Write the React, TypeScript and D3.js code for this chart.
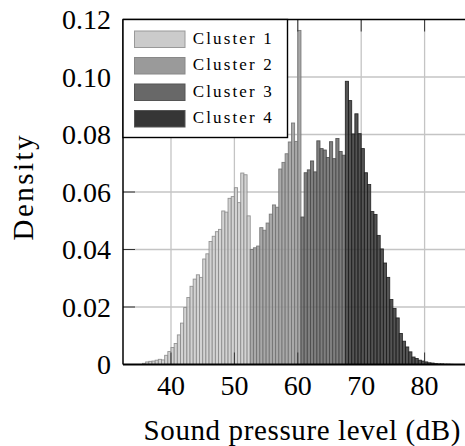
import React from "react";
import * as d3 from "d3";

// ---- Data (density per 0.5 dB bin) ----
const binWidth = 0.5;
const clusterNames = ["Cluster 1", "Cluster 2", "Cluster 3", "Cluster 4"];
const clusterStarts = [35.5, 52.5, 60.5, 67.5];
const cluster1 = [
  0.0004, 0.0009, 0.0011, 0.0012, 0.0015, 0.0018, 0.0016, 0.0032, 0.0045, 0.0059,
  0.0073, 0.0103, 0.0144, 0.0198, 0.0233, 0.0272, 0.0297, 0.0312, 0.0303, 0.0367,
  0.0385, 0.0428, 0.0446, 0.0462, 0.047, 0.0534, 0.053, 0.0578, 0.0584, 0.0615,
  0.0563, 0.0666, 0.066, 0.0517,
];
const cluster2 = [
  0.04, 0.0406, 0.0412, 0.0476, 0.0467, 0.0492, 0.0523, 0.0555, 0.0547, 0.068,
  0.0703, 0.0733, 0.0774, 0.084, 0.0776, 0.1162,
];
const cluster3 = [
  0.0513, 0.0667, 0.0677, 0.0708, 0.067, 0.0778, 0.0751, 0.0746, 0.072, 0.0775,
  0.0716, 0.0786, 0.0741, 0.0728,
];
const cluster4 = [
  0.0985, 0.0918, 0.0802, 0.0872, 0.0803, 0.0751, 0.0667, 0.0626, 0.0532, 0.0522,
  0.0449, 0.0402, 0.0353, 0.0303, 0.0226, 0.0195, 0.0162, 0.0108, 0.0081, 0.0061,
  0.0044, 0.0026, 0.0021, 0.0015, 0.0012, 0.0009, 0.0006, 0.0005, 0.0003, 0.0002,
  0.0002, 0.0001, 0.0001, 0.00005,
];
const clusterValues = [cluster1, cluster2, cluster3, cluster4];
const xTicks = [40, 50, 60, 70, 80];
const yTicks = [0, 0.02, 0.04, 0.06, 0.08, 0.1, 0.12];
const yTickLabels = ["0", "0.02", "0.04", "0.06", "0.08", "0.10", "0.12"];

const fills = ["#cbcbcb", "#9a9a9a", "#686868", "#363636"];
const strokes = ["#8a8a8a", "#727272", "#4a4a4a", "#1e1e1e"];
const legendStrokes = ["#999999", "#888888", "#555555", "#555555"];

const FONT = "Liberation Serif, DejaVu Serif, Times New Roman, serif";

export default function App() {
  const W = 465;
  const H = 446;
  const left = 123;
  const pxPerUnit = 6.34;
  const xDomain: [number, number] = [32.43, 88];
  const x = d3
    .scaleLinear()
    .domain(xDomain)
    .range([left, left + (xDomain[1] - xDomain[0]) * pxPerUnit]);
  const y = d3.scaleLinear().domain([0, 0.12]).range([364.5, 19.5]);
  const x0 = x.range()[0];
  const x1 = x.range()[1];
  const yb = y(0);
  const yt = y(0.12);
  const tickLen = 12;

  const bars = clusterValues.flatMap((vals, ci) =>
    vals.map((v, i) => {
      const b = clusterStarts[ci] + i * binWidth;
      return { ci, b, v };
    })
  );

  const txt = { fontFamily: FONT };

  return (
    <svg width={W} height={H} style={{ display: "block", position: "absolute", left: 0, top: 0 }}>
      <rect x={0} y={0} width={W} height={H} fill="#fff" />
      {/* grid */}
      {xTicks.map((t) => (
        <line key={"gx" + t} x1={x(t)} x2={x(t)} y1={yt} y2={yb} stroke="#c4c4c4" strokeWidth={1.3} />
      ))}
      {yTicks.slice(1, -1).map((t) => (
        <line key={"gy" + t} x1={x0} x2={x1} y1={y(t)} y2={y(t)} stroke="#c4c4c4" strokeWidth={1.3} />
      ))}
      {/* bars */}
      {bars.map((d, i) => (
        <rect
          key={"b" + i}
          x={x(d.b)}
          y={y(d.v)}
          width={x(d.b + binWidth) - x(d.b)}
          height={yb - y(d.v)}
          fill={fills[d.ci]}
          fillOpacity={0.85}
          stroke={strokes[d.ci]}
          strokeOpacity={0.9}
          strokeWidth={0.9}
        />
      ))}
      {/* ticks */}
      {xTicks.map((t) => (
        <g key={"tx" + t}>
          <line x1={x(t)} x2={x(t)} y1={yb} y2={yb - tickLen} stroke="#333" strokeWidth={1} />
          <line x1={x(t)} x2={x(t)} y1={yt} y2={yt + tickLen} stroke="#333" strokeWidth={1} />
        </g>
      ))}
      {yTicks.slice(1, -1).map((t) => (
        <line key={"ty" + t} x1={x0} x2={x0 + tickLen} y1={y(t)} y2={y(t)} stroke="#333" strokeWidth={1} />
      ))}
      {/* frame */}
      <line x1={x0} x2={x1} y1={yb} y2={yb} stroke="#000" strokeWidth={1.8} />
      <line x1={x0} x2={x1} y1={yt} y2={yt} stroke="#000" strokeWidth={1.5} />
      <line x1={x0} x2={x0} y1={yt} y2={yb} stroke="#000" strokeWidth={1.5} />
      {/* tick labels */}
      {xTicks.map((t) => (
        <text key={"lx" + t} x={x(t)} y={395} textAnchor="middle" style={txt} fontSize={28} fill="#000">
          {t}
        </text>
      ))}
      {yTicks.map((t, i) => (
        <text key={"ly" + t} x={111} y={y(t) + 9.5} textAnchor="end" style={txt} fontSize={28} fill="#000">
          {yTickLabels[i]}
        </text>
      ))}
      {/* axis labels */}
      <text x={143.5} y={440} style={txt} fontSize={29} textLength={317} lengthAdjust="spacing" fill="#000">
        Sound pressure level (dB)
      </text>
      <text
        transform={`translate(33,${(yt + yb) / 2 - 4}) rotate(-90)`}
        textAnchor="middle"
        style={txt}
        fontSize={29}
        textLength={105}
        lengthAdjust="spacing"
        fill="#000"
      >
        Density
      </text>
      {/* legend */}
      <rect x={x0} y={yt} width={164.5} height={118} fill="#fff" stroke="#000" strokeWidth={1.4} />
      {clusterNames.map((n, i) => (
        <g key={n}>
          <rect
            x={134.5}
            y={31 + i * 26.5}
            width={50.5}
            height={16.5}
            fill={fills[i]}
            stroke={legendStrokes[i]}
            strokeWidth={1}
          />
          <text x={192.7} y={43.5 + i * 26.5} style={txt} fontSize={17} textLength={79} lengthAdjust="spacing" fill="#000">
            {n}
          </text>
        </g>
      ))}
    </svg>
  );
}
